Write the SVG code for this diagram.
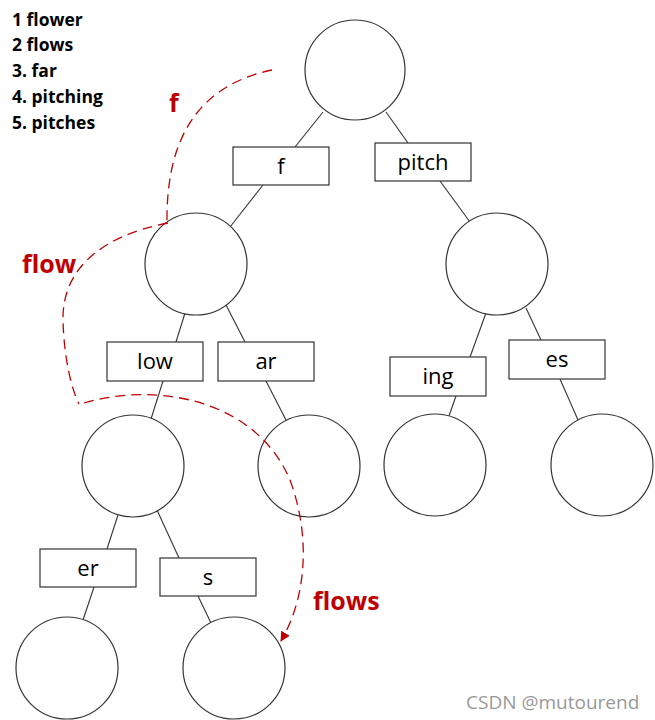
<svg xmlns="http://www.w3.org/2000/svg" width="655" height="720" viewBox="0 0 655 720">
<defs>
<style>
.node{fill:#fff;stroke:#333;stroke-width:1.2}
.box{fill:#fff;stroke:#333;stroke-width:1.2}
.lbl{font-family:"Open Sans","Liberation Sans",sans-serif;font-size:22px;fill:#000;text-anchor:middle}
.edge{stroke:#333;stroke-width:1.1;fill:none}
.path{stroke:#c00000;stroke-width:1.3;fill:none;stroke-dasharray:10 6}
.red{font-family:"Open Sans","Liberation Sans",sans-serif;font-weight:bold;font-size:25px;fill:#c00000}
.list{font-family:"Open Sans","Liberation Sans",sans-serif;font-weight:bold;font-size:17.5px;fill:#000}
</style>
<marker id="arr" viewBox="0 0 10 10" refX="9" refY="5" markerWidth="10" markerHeight="10" markerUnits="userSpaceOnUse" orient="auto">
<path d="M0,0 L10,5 L0,10 z" fill="#c00000"/>
</marker>
</defs>
<rect width="655" height="720" fill="#fff"/>
<g id="connectors">
<line class="edge" x1="323" y1="112" x2="295" y2="147"/>
<line class="edge" x1="263" y1="185" x2="230" y2="227"/>
<line class="edge" x1="386" y1="112" x2="408" y2="143"/>
<line class="edge" x1="440" y1="181" x2="470" y2="222"/>
<line class="edge" x1="185" y1="313" x2="176" y2="342"/>
<line class="edge" x1="226" y1="305" x2="245" y2="342"/>
<line class="edge" x1="163" y1="381" x2="151" y2="419"/>
<line class="edge" x1="266" y1="381" x2="287" y2="422"/>
<line class="edge" x1="486" y1="313" x2="470" y2="357"/>
<line class="edge" x1="526" y1="308" x2="541" y2="340"/>
<line class="edge" x1="456" y1="396" x2="449" y2="416"/>
<line class="edge" x1="560" y1="379" x2="578" y2="420"/>
<line class="edge" x1="118" y1="515" x2="107" y2="549"/>
<line class="edge" x1="157" y1="510" x2="179" y2="558"/>
<line class="edge" x1="94" y1="587" x2="83" y2="620"/>
<line class="edge" x1="198" y1="596" x2="211" y2="623"/>
</g>
<g id="root"><circle class="node" cx="355" cy="70" r="50"/></g>
<g id="nodeA"><circle class="node" cx="196" cy="264" r="51"/></g>
<g id="nodeB"><circle class="node" cx="497" cy="264" r="51"/></g>
<g id="nodeC"><circle class="node" cx="133" cy="466" r="51"/></g>
<g id="nodeD"><circle class="node" cx="309" cy="466" r="51"/></g>
<g id="nodeE"><circle class="node" cx="435" cy="465" r="51"/></g>
<g id="nodeF"><circle class="node" cx="602" cy="465" r="51"/></g>
<g id="nodeG"><circle class="node" cx="67" cy="668" r="51"/></g>
<g id="nodeH"><circle class="node" cx="234" cy="668" r="51"/></g>
<g id="box-f"><rect class="box" x="233" y="147" width="96" height="38"/><text class="lbl" x="281" y="174">f</text></g>
<g id="box-pitch"><rect class="box" x="375" y="143" width="96" height="38"/><text class="lbl" x="423" y="170">pitch</text></g>
<g id="box-low"><rect class="box" x="107" y="342" width="96" height="39"/><text class="lbl" x="155" y="369">low</text></g>
<g id="box-ar"><rect class="box" x="218" y="342" width="96" height="39"/><text class="lbl" x="266" y="369">ar</text></g>
<g id="box-ing"><rect class="box" x="390" y="357" width="96" height="39"/><text class="lbl" x="438" y="384">ing</text></g>
<g id="box-es"><rect class="box" x="509" y="340" width="96" height="39"/><text class="lbl" x="557" y="367">es</text></g>
<g id="box-er"><rect class="box" x="40" y="549" width="96" height="38"/><text class="lbl" x="88" y="576">er</text></g>
<g id="box-s"><rect class="box" x="160" y="558" width="96" height="38"/><text class="lbl" x="208" y="585">s</text></g>
<g id="search-paths">
<path class="path" d="M272,70 C205,84 166,130 167,222"/>
<path class="path" d="M168,223 C100,236 62,270 63,320 C64,360 72,390 79,404"/>
<path class="path" d="M84,403 C155,382 255,398 290,480 C312,540 305,600 281,641" marker-end="url(#arr)"/>
</g>
<g id="labels">
<text class="red" x="169" y="112">f</text>
<text class="red" x="22" y="273">flow</text>
<text class="red" x="313" y="610">flows</text>
</g>
<g id="list">
<text class="list" x="12" y="26">1 flower</text>
<text class="list" x="12" y="51">2 flows</text>
<text class="list" x="12" y="77">3. far</text>
<text class="list" x="12" y="103">4. pitching</text>
<text class="list" x="12" y="129">5. pitches</text>
</g>
<text x="466" y="709" font-family="'Open Sans','Liberation Sans',sans-serif" font-size="19" fill="#999">CSDN @mutourend</text>
</svg>
